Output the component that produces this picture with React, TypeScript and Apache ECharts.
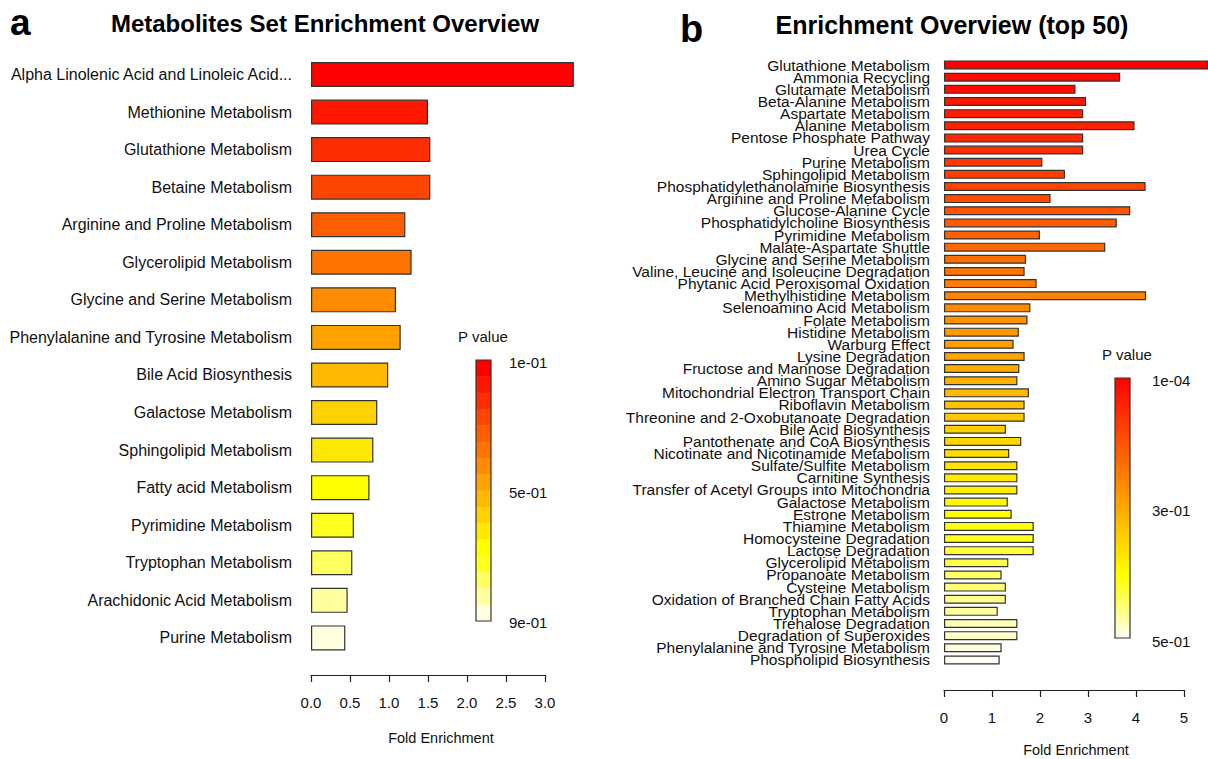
import React, { useEffect, useRef } from "react";
import * as echarts from "echarts";

// ---------- Panel a data ----------
const categoriesA = [
  "Alpha Linolenic Acid and Linoleic Acid...",
  "Methionine Metabolism",
  "Glutathione Metabolism",
  "Betaine Metabolism",
  "Arginine and Proline Metabolism",
  "Glycerolipid Metabolism",
  "Glycine and Serine Metabolism",
  "Phenylalanine and Tyrosine Metabolism",
  "Bile Acid Biosynthesis",
  "Galactose Metabolism",
  "Sphingolipid Metabolism",
  "Fatty acid Metabolism",
  "Pyrimidine Metabolism",
  "Tryptophan Metabolism",
  "Arachidonic Acid Metabolism",
  "Purine Metabolism",
];
const foldA = [3.37, 1.5, 1.53, 1.53, 1.21, 1.29, 1.09, 1.15, 0.99, 0.85, 0.8, 0.75, 0.55, 0.53, 0.47, 0.44];
const pValueA = [0.11, 0.15, 0.2, 0.26, 0.31, 0.36, 0.41, 0.46, 0.51, 0.56, 0.61, 0.66, 0.71, 0.76, 0.82, 0.88];
const ticksA = ["1e-01", "5e-01", "9e-01"];

// ---------- Panel b data ----------
const categoriesB = [
  "Glutathione Metabolism",
  "Ammonia Recycling",
  "Glutamate Metabolism",
  "Beta-Alanine Metabolism",
  "Aspartate Metabolism",
  "Alanine Metabolism",
  "Pentose Phosphate Pathway",
  "Urea Cycle",
  "Purine Metabolism",
  "Sphingolipid Metabolism",
  "Phosphatidylethanolamine Biosynthesis",
  "Arginine and Proline Metabolism",
  "Glucose-Alanine Cycle",
  "Phosphatidylcholine Biosynthesis",
  "Pyrimidine Metabolism",
  "Malate-Aspartate Shuttle",
  "Glycine and Serine Metabolism",
  "Valine, Leucine and Isoleucine Degradation",
  "Phytanic Acid Peroxisomal Oxidation",
  "Methylhistidine Metabolism",
  "Selenoamino Acid Metabolism",
  "Folate Metabolism",
  "Histidine Metabolism",
  "Warburg Effect",
  "Lysine Degradation",
  "Fructose and Mannose Degradation",
  "Amino Sugar Metabolism",
  "Mitochondrial Electron Transport Chain",
  "Riboflavin Metabolism",
  "Threonine and 2-Oxobutanoate Degradation",
  "Bile Acid Biosynthesis",
  "Pantothenate and CoA Biosynthesis",
  "Nicotinate and Nicotinamide Metabolism",
  "Sulfate/Sulfite Metabolism",
  "Carnitine Synthesis",
  "Transfer of Acetyl Groups into Mitochondria",
  "Galactose Metabolism",
  "Estrone Metabolism",
  "Thiamine Metabolism",
  "Homocysteine Degradation",
  "Lactose Degradation",
  "Glycerolipid Metabolism",
  "Propanoate Metabolism",
  "Cysteine Metabolism",
  "Oxidation of Branched Chain Fatty Acids",
  "Tryptophan Metabolism",
  "Trehalose Degradation",
  "Degradation of Superoxides",
  "Phenylalanine and Tyrosine Metabolism",
  "Phospholipid Biosynthesis",
];
const foldB = [
  5.7, 3.67, 2.74, 2.96, 2.9, 3.97, 2.9, 2.9, 2.05, 2.52,
  4.2, 2.22, 3.88, 3.6, 2.0, 3.36, 1.71, 1.68, 1.93, 4.21,
  1.8, 1.74, 1.56, 1.45, 1.68, 1.57, 1.53, 1.77, 1.68, 1.68,
  1.29, 1.61, 1.36, 1.53, 1.53, 1.53, 1.33, 1.41, 1.87, 1.87,
  1.87, 1.34, 1.2, 1.29, 1.29, 1.12, 1.53, 1.53, 1.2, 1.16,
];
const pValueB = [
  0.0001, 0.008, 0.017, 0.024, 0.033, 0.04, 0.052, 0.06, 0.07, 0.083,
  0.09, 0.105, 0.113, 0.128, 0.136, 0.15, 0.158, 0.17, 0.181, 0.19,
  0.204, 0.215, 0.223, 0.236, 0.247, 0.26, 0.271, 0.282, 0.296, 0.305,
  0.318, 0.326, 0.339, 0.35, 0.361, 0.37, 0.383, 0.392, 0.404, 0.412,
  0.425, 0.433, 0.445, 0.452, 0.461, 0.468, 0.476, 0.484, 0.492, 0.5,
];
const ticksB = ["1e-04", "3e-01", "5e-01"];

// ---------- helpers ----------
function heatColors(n: number): string[] {
  const j = Math.floor(n / 4);
  const i = n - j;
  const hex = (v: number) => Math.round(v).toString(16).padStart(2, "0");
  const out: string[] = [];
  for (let k = 0; k < i; k++) {
    const g = i > 1 ? (255 * k) / (i - 1) : 0;
    out.push("#ff" + hex(g) + "00");
  }
  for (let m = 0; m < j; m++) {
    const s0 = 1 - 1 / (2 * j);
    const s1 = 1 / (2 * j);
    const s = j > 1 ? s0 + ((s1 - s0) * m) / (j - 1) : s0;
    out.push("#ffff" + hex(255 * (1 - s)));
  }
  return out;
}

function colorsByRank(p: number[], palette: string[]): string[] {
  const idx = p.map((v, i) => i).sort((x, y) => p[x] - p[y]);
  const res: string[] = new Array(p.length);
  idx.forEach((orig, rank) => {
    res[orig] = palette[Math.min(palette.length - 1, Math.round((rank * (palette.length - 1)) / Math.max(1, p.length - 1)))];
  });
  return res;
}

const FONT = "'Liberation Sans', Arial, Helvetica, sans-serif";
const TXT = "#111";
const AXC = "#222";

export default function App() {
  const ref = useRef<HTMLDivElement>(null);

  useEffect(() => {
    if (!ref.current) return;
    const chart = echarts.init(ref.current, undefined, { renderer: "svg" });

    const palA = heatColors(16);
    const palB = heatColors(50);
    const colA = colorsByRank(pValueA, palA);
    const colB = colorsByRank(pValueB, palB);

    const txt = (text: string, x: number, y: number, size: number, align: string, bold = false, color = "#000") => ({
      type: "text",
      silent: true,
      style: {
        text,
        x,
        y,
        font: `${bold ? "bold " : ""}${size}px ${FONT}`,
        fill: color,
        textAlign: align,
        align,
        textVerticalAlign: "middle",
        verticalAlign: "middle",
      },
    });

    // legend a (stepped)
    const legATop = 360;
    const legABottom = 621;
    const legAX = 476;
    const legAW = 15;
    const stepH = (legABottom - legATop) / palA.length;
    const legendARects = palA.map((c, k) => ({
      type: "rect",
      silent: true,
      shape: { x: legAX, y: legATop + k * stepH, width: legAW, height: stepH + 0.5 },
      style: { fill: c },
    }));

    // legend b (smooth)
    const legBTop = 378;
    const legBBottom = 638;
    const legBX = 1115;
    const legBW = 15;

    const graphic: any[] = [
      txt("a", 10, 22, 37, "left", true),
      txt("Metabolites Set Enrichment Overview", 325, 23.5, 24, "center", true),
      txt("b", 680, 28.5, 38, "left", true),
      txt("Enrichment Overview (top 50)", 952, 24.5, 25, "center", true),
      txt("Fold Enrichment", 441, 738, 14.5, "center", false, TXT),
      txt("Fold Enrichment", 1076, 750, 14.5, "center", false, TXT),
      txt("P value", 483, 336, 15, "center", false, TXT),
      txt("P value", 1127, 354, 15, "center", false, TXT),
      ...legendARects,
      {
        type: "rect",
        silent: true,
        shape: { x: legAX, y: legATop, width: legAW, height: legABottom - legATop },
        style: { fill: "none", stroke: "#333", lineWidth: 1.2 },
      },
      {
        type: "rect",
        silent: true,
        shape: { x: legBX, y: legBTop, width: legBW, height: legBBottom - legBTop },
        style: {
          fill: new echarts.graphic.LinearGradient(
            0, 0, 0, 1,
            palB.map((c, k) => ({ offset: k / (palB.length - 1), color: c }))
          ),
          stroke: "#333",
          lineWidth: 1.2,
        },
      },
      txt(ticksA[0], 509, 362, 15, "left", false, TXT),
      txt(ticksA[1], 509, 492, 15, "left", false, TXT),
      txt(ticksA[2], 509, 622, 15, "left", false, TXT),
      txt(ticksB[0], 1152, 380, 15, "left", false, TXT),
      txt(ticksB[1], 1152, 510, 15, "left", false, TXT),
      txt(ticksB[2], 1152, 641, 15, "left", false, TXT),
    ];

    const visAxis = (max: number, interval: number, dec: number, grid: number) => ({
      type: "value",
      gridIndex: grid,
      min: 0,
      max,
      interval,
      axisLine: { show: true, lineStyle: { color: AXC, width: 1.2 } },
      axisTick: { show: true, length: 7, lineStyle: { color: AXC, width: 1.2 } },
      axisLabel: {
        show: true,
        margin: 20,
        fontSize: 15,
        fontFamily: FONT,
        color: TXT,
        formatter: (v: number) => v.toFixed(dec),
      },
      splitLine: { show: false },
    });

    const option: any = {
      animation: false,
      backgroundColor: "#ffffff",
      grid: [
        { left: 311, top: 55.7, width: 273, height: 601, containLabel: false },
        { left: 311, top: 670, width: 234, height: 5, containLabel: false },
        { left: 944, top: 59, width: 264, height: 607, containLabel: false },
        { left: 944, top: 685, width: 240, height: 5, containLabel: false },
      ],
      xAxis: [
        { type: "value", gridIndex: 0, min: 0, max: 3.5, show: false },
        visAxis(3, 0.5, 1, 1),
        { type: "value", gridIndex: 2, min: 0, max: 5.5, show: false },
        visAxis(5, 1, 0, 3),
      ],
      yAxis: [
        {
          type: "category",
          gridIndex: 0,
          data: categoriesA,
          inverse: true,
          axisLine: { show: false },
          axisTick: { show: false },
          splitLine: { show: false },
          axisLabel: { interval: 0, margin: 19, fontSize: 16, fontFamily: FONT, color: TXT },
        },
        { type: "value", gridIndex: 1, show: false, min: 0, max: 1 },
        {
          type: "category",
          gridIndex: 2,
          data: categoriesB,
          inverse: true,
          axisLine: { show: false },
          axisTick: { show: false },
          splitLine: { show: false },
          axisLabel: { interval: 0, margin: 14, fontSize: 15.5, fontFamily: FONT, color: TXT, lineHeight: 12 },
        },
        { type: "value", gridIndex: 3, show: false, min: 0, max: 1 },
      ],
      series: [
        {
          type: "bar",
          xAxisIndex: 0,
          yAxisIndex: 0,
          barWidth: 25,
          clip: true,
          itemStyle: { borderColor: "#333", borderWidth: 1.2 },
          data: foldA.map((v, i) => ({ value: v, itemStyle: { color: colA[i] } })),
        },
        {
          type: "bar",
          xAxisIndex: 2,
          yAxisIndex: 2,
          barWidth: 9,
          clip: true,
          itemStyle: { borderColor: "#333", borderWidth: 1.2 },
          data: foldB.map((v, i) => ({ value: v, itemStyle: { color: colB[i] } })),
        },
      ],
      graphic,
    };

    chart.setOption(option);
    return () => chart.dispose();
  }, []);

  return (
    <div
      ref={ref}
      style={{ position: "absolute", left: 0, top: 0, width: 1208, height: 759, background: "#fff" }}
    />
  );
}
